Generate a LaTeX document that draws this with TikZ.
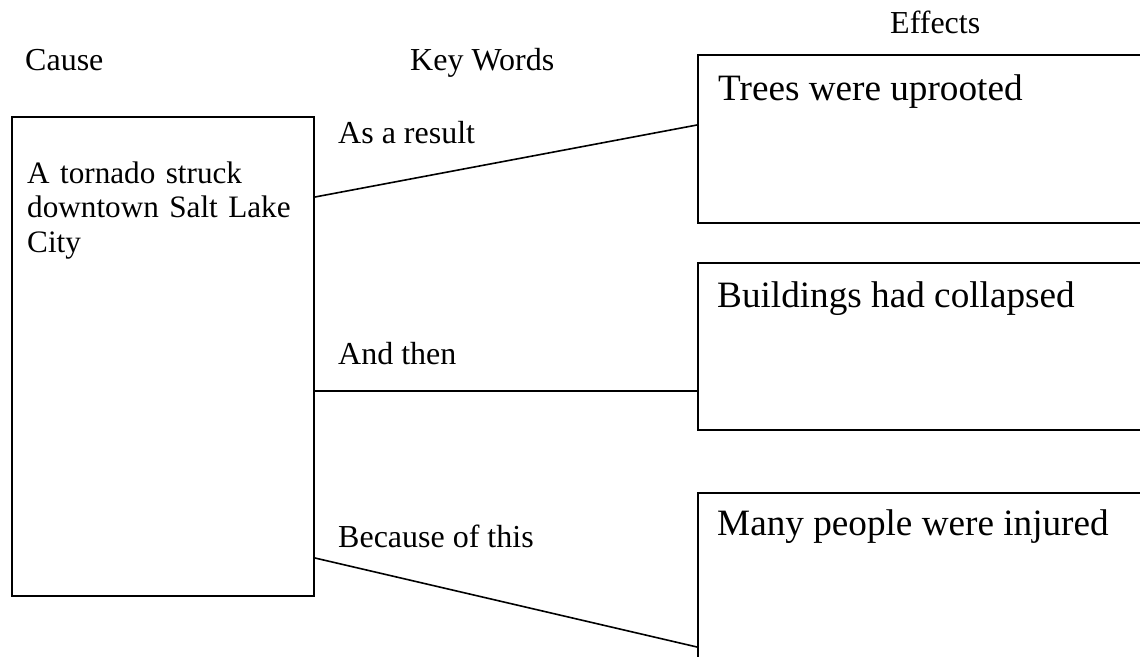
\documentclass[tikz,border=0pt]{standalone}
\usepackage{fontspec}
\setmainfont{Liberation Serif}
\usetikzlibrary{calc}
\tikzset{
  boxnode/.style={draw=black, line width=2pt, rectangle, inner sep=0pt, anchor=north west},
  lbl/.style={inner sep=0pt, anchor=base west, font=\fontsize{32}{35}\selectfont},
  causefont/.style={inner sep=0pt, anchor=base west, font=\fontsize{31.2}{34.5}\selectfont},
  efftext/.style={inner sep=0pt, anchor=base west, font=\fontsize{37.2}{40}\selectfont},
  conn/.style={draw=black, line width=1.6pt}
}
\begin{document}
\begin{tikzpicture}[x=1pt,y=-1pt]
\useasboundingbox (0,0) rectangle (1140,656);
\clip (0,0) rectangle (1140,656);
\fill[white] (0,0) rectangle (1140,656);
% headings
\node[lbl] (hcause) at (25,70) {Cause};
\node[lbl] (hkey) at (410,70) {Key Words};
\node[lbl] (heff) at (890,33) {Effects};
% cause box
\node[boxnode, minimum width=302pt, minimum height=479pt] (cause) at (11,116) {};
\node[causefont, text width=290pt, align=left] (causetxt) at (27,183) {A tornado struck\\downtown Salt Lake\\City};
% effect boxes
\node[boxnode, minimum width=470pt, minimum height=168pt] (e1) at (697,54) {};
\node[boxnode, minimum width=470pt, minimum height=167pt] (e2) at (697,262) {};
\node[boxnode, minimum width=470pt, minimum height=220pt] (e3) at (697,492) {};
\node[efftext] (t1) at (718,100) {Trees were uprooted};
\node[efftext] (t2) at (717,307) {Buildings had collapsed};
\node[efftext] (t3) at (717,535) {Many people were injured};
% key words
\node[lbl] (k1) at (338,143) {As a result};
\node[lbl] (k2) at (338,364) {And then};
\node[lbl] (k3) at (338,547) {Because of this};
% connectors
\draw[conn] ($(cause.north east)+(0,81)$) -- ($(e1.north west)+(0,71)$);
\draw[conn] ($(cause.north east)+(0,275)$) -- ($(e2.north west)+(0,129)$);
\draw[conn] ($(cause.north east)+(0,442)$) -- ($(e3.north west)+(0,155)$);
\end{tikzpicture}
\end{document}
